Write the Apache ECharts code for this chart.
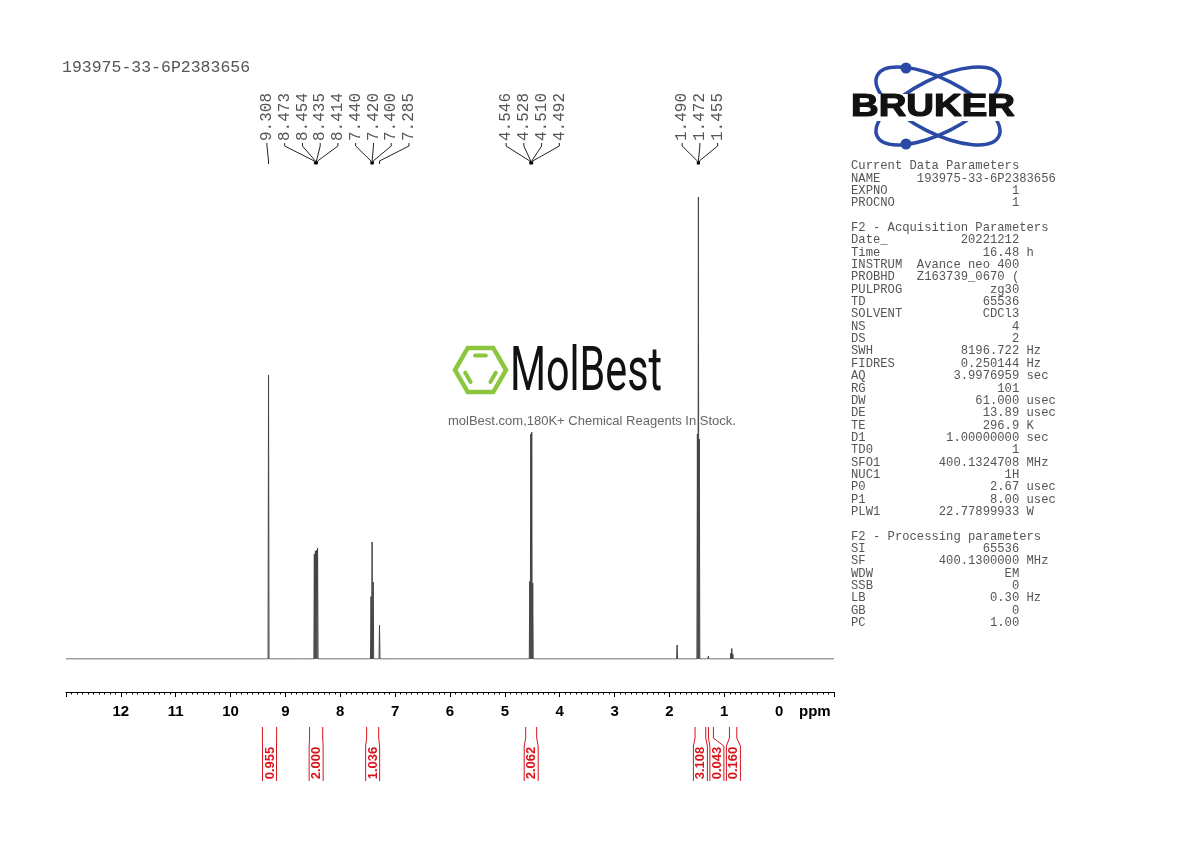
<!DOCTYPE html>
<html><head><meta charset="utf-8">
<script src="https://cdn.jsdelivr.net/npm/echarts@6/dist/echarts.min.js"></script>
<style>html,body{margin:0;padding:0;background:#fff}#c{width:1190px;height:842px}</style>
</head><body><div id="c"></div>
<script>
// ---------------- data ----------------
const sampleName = '193975-33-6P2383656';
const tickLabels = ['12','11','10','9','8','7','6','5','4','3','2','1','0'];
const axisUnit = 'ppm';

// peak positions (ppm) and heights (relative intensity)
const peakPpm    = [9.308, 9.04, 8.66, 8.473, 8.454, 8.435, 8.414, 8.20, 7.440, 7.420, 7.400, 7.285, 6.95,
                    4.546, 4.528, 4.510, 4.492, 1.86, 1.62, 1.490, 1.472, 1.455, 1.29, 1.25, 0.880, 0.863, 0.845];
const peakHeight = [56.8, 0.3, 0.3, 21.0, 21.6, 21.8, 22.2, 0.2, 12.5, 23.4, 15.4, 6.8, 0.3,
                    15.5, 45.0, 45.4, 15.2, 2.8, 0.4, 45.0, 92.4, 44.0, 0.6, 0.4, 1.2, 2.1, 1.0];

// labelled peaks
const labelPpm = [9.308, 8.473, 8.454, 8.435, 8.414, 7.440, 7.420, 7.400, 7.285,
                  4.546, 4.528, 4.510, 4.492, 1.490, 1.472, 1.455];

// integrals
const integralFrom  = [9.42, 8.56, 7.52, 4.62, 1.533, 1.289, 0.906];
const integralTo    = [9.16, 8.32, 7.30, 4.42, 1.338, 1.198, 0.772];
const integralValue = [0.955, 2.000, 1.036, 2.062, 3.108, 0.043, 0.160];

// parameter panel
const currentKeys   = ['NAME', 'EXPNO', 'PROCNO'];
const currentValues = ['193975-33-6P2383656', '1', '1'];
const acqKeys   = ['Date_','Time','INSTRUM','PROBHD','PULPROG','TD','SOLVENT','NS','DS','SWH','FIDRES','AQ','RG','DW','DE','TE','D1','TD0','SFO1','NUC1','P0','P1','PLW1'];
const acqValues = ['20221212','16.48','Avance neo 400','Z163739_0670 (','zg30','65536','CDCl3','4','2','8196.722','0.250144','3.9976959','101','61.000','13.89','296.9','1.00000000','1','400.1324708','1H','2.67','8.00','22.77899933'];
const acqUnits  = ['','h','','','','','','','','Hz','Hz','sec','','usec','usec','K','sec','','MHz','','usec','usec','W'];
const procKeys   = ['SI','SF','WDW','SSB','LB','GB','PC'];
const procValues = ['65536','400.1300000','EM','0','0.30','0','1.00'];
const procUnits  = ['','MHz','','','Hz','',''];

const watermarkTitle = 'MolBest';
const watermarkTagline = 'molBest.com,180K+ Chemical Reagents In Stock.';
const logoText = 'BRUKER';

// ---------------- chart ----------------
const chart = echarts.init(document.getElementById('c'), null, {renderer: 'canvas'});
const HW = 0.009;
const pts = [[13, 0], [-1, 0]];
peakPpm.forEach((p, i) => { pts.push([p + HW, 0], [p, peakHeight[i]], [p - HW, 0]); });
pts.sort((a, b) => b[0] - a[0]);

const MONO = '"Liberation Mono","DejaVu Sans Mono",monospace';
const SANS = '"Liberation Sans",Arial,sans-serif';
const TXT = '#555';

chart.setOption({
  animation: false,
  grid: {left: 66, right: 356, top: 159, bottom: 183},
  xAxis: {
    type: 'value', min: -1, max: 13, interval: 1, inverse: true, offset: 33,
    axisLine: {show: true, onZero: false, lineStyle: {color: '#000', width: 1}},
    axisTick: {show: true, inside: false, length: 5, lineStyle: {color: '#000'}},
    minorTick: {show: true, splitNumber: 10, length: 2.5, lineStyle: {color: '#000'}},
    splitLine: {show: false}, minorSplitLine: {show: false},
    axisLabel: {
      margin: 12, color: '#000', fontSize: 15, fontWeight: 'bold', fontFamily: SANS,
      formatter: v => tickLabels.includes(String(v)) ? String(v) : ''
    }
  },
  yAxis: {type: 'value', min: 0, max: 100, show: false},
  series: [{
    type: 'line', data: pts, showSymbol: false, symbol: 'none', silent: true, z: 5,
    lineStyle: {color: '#444', width: 1}
  }]
});

const px = v => chart.convertToPixel({xAxisIndex: 0}, v);
const G = [];

// header
G.push({type: 'text', x: 62, y: 68, style: {text: sampleName, font: '16.5px ' + MONO, fill: TXT, textAlign: 'left', textVerticalAlign: 'middle', verticalAlign: 'middle'}});
// ppm unit
G.push({type: 'text', x: 799, y: 712, style: {text: axisUnit, font: 'bold 15px ' + SANS, fill: '#000', textAlign: 'left', textVerticalAlign: 'middle', verticalAlign: 'middle'}});

// ---- peak labels: spread with fixed spacing ----
const SP = 17.75;
const lp = labelPpm.map(px);
let clusters = lp.map((x, i) => ({s: i, n: 1, c: x}));
let merged = true;
while (merged) {
  merged = false;
  for (let k = 0; k < clusters.length - 1; k++) {
    const a = clusters[k], b = clusters[k + 1];
    const aEnd = a.c + (a.n - 1) / 2 * SP, bStart = b.c - (b.n - 1) / 2 * SP;
    if (bStart - aEnd < SP) {
      let sum = 0; for (let j = a.s; j < a.s + a.n + b.n; j++) sum += lp[j];
      clusters.splice(k, 2, {s: a.s, n: a.n + b.n, c: sum / (a.n + b.n)});
      merged = true; break;
    }
  }
}
const lx = [];
clusters.forEach(cl => { for (let j = 0; j < cl.n; j++) lx[cl.s + j] = cl.c + (j - (cl.n - 1) / 2) * SP + 1.5; });
labelPpm.forEach((p, i) => {
  G.push({type: 'text', x: lx[i], y: 141, rotation: Math.PI / 2,
    style: {text: p.toFixed(3), font: '16px ' + MONO, fill: TXT, textAlign: 'left', textVerticalAlign: 'middle', verticalAlign: 'middle'}});
  G.push({type: 'polyline', shape: {points: [[lx[i], 143], [lx[i], 146], [lp[i], 161], [lp[i], 164]]},
    style: {stroke: '#222', lineWidth: 1, fill: null}});
});
// multiplet junction squares
let grp = [0];
for (let i = 1; i <= labelPpm.length; i++) {
  if (i < labelPpm.length && labelPpm[i - 1] - labelPpm[i] < 0.03) { grp.push(i); continue; }
  if (grp.length > 1) {
    const m = grp.reduce((s, j) => s + lp[j], 0) / grp.length;
    G.push({type: 'rect', shape: {x: m - 1.5, y: 161.5, width: 3, height: 3}, style: {fill: '#000'}});
  }
  grp = [i];
}

// ---- integrals ----
const RED = '#d8141b';
const ic = integralFrom.map((f, i) => (px(f) + px(integralTo[i])) / 2);
for (let i = 1; i < ic.length; i++) if (ic[i] - ic[i - 1] < 16.5) ic[i] = ic[i - 1] + 16.5;
integralValue.forEach((v, i) => {
  const x1 = px(integralFrom[i]), x2 = px(integralTo[i]), c = ic[i], hw = 7;
  G.push({type: 'polyline', shape: {points: [[x1, 727], [x1, 738], [c - hw, 746], [c - hw, 781]]}, style: {stroke: RED, lineWidth: 1, fill: null}});
  G.push({type: 'polyline', shape: {points: [[x2, 727], [x2, 738], [c + hw, 746], [c + hw, 781]]}, style: {stroke: RED, lineWidth: 1, fill: null}});
  G.push({type: 'text', x: c + 0.5, y: 763, rotation: Math.PI / 2,
    style: {text: v.toFixed(3), font: 'bold 13px ' + SANS, fill: RED, textAlign: 'center', textVerticalAlign: 'middle', verticalAlign: 'middle'}});
});

// ---- parameter panel ----
function row(k, v, u) {
  const gap = 23 - k.length - v.length;
  let s = gap < 1 ? k.padEnd(9) + v : k + ' '.repeat(gap) + v;
  if (u) s += ' ' + u;
  return s;
}
const rows = ['Current Data Parameters'];
currentKeys.forEach((k, i) => rows.push(row(k, currentValues[i], '')));
rows.push('', 'F2 - Acquisition Parameters');
acqKeys.forEach((k, i) => rows.push(row(k, acqValues[i], acqUnits[i])));
rows.push('', 'F2 - Processing parameters');
procKeys.forEach((k, i) => rows.push(row(k, procValues[i], procUnits[i])));
rows.forEach((r, i) => {
  if (!r) return;
  G.push({type: 'text', x: 851, y: 166 + i * 12.35, style: {text: r, font: '12.2px ' + MONO, fill: TXT, textAlign: 'left', textVerticalAlign: 'middle', verticalAlign: 'middle'}});
});

// ---- Bruker logo ----
const BLUE = '#2b4aa6';
const th = 26.7 * Math.PI / 180;
G.push({type: 'ellipse', x: 938, y: 106, rotation: -th, shape: {cx: 0, cy: 0, rx: 68, ry: 27}, style: {stroke: BLUE, lineWidth: 3.5, fill: null}});
G.push({type: 'ellipse', x: 938, y: 106, rotation: th, shape: {cx: 0, cy: 0, rx: 68, ry: 27}, style: {stroke: BLUE, lineWidth: 3.5, fill: null}});
G.push({type: 'circle', shape: {cx: 906, cy: 68, r: 5.5}, style: {fill: BLUE}});
G.push({type: 'circle', shape: {cx: 906, cy: 144, r: 5.5}, style: {fill: BLUE}});
G.push({type: 'rect', shape: {x: 846, y: 94, width: 174, height: 27}, style: {fill: '#fff'}});
(function () {
  const ctx = document.createElement('canvas').getContext('2d');
  const f = 'bold 32px ' + SANS;
  ctx.font = f;
  const w = ctx.measureText(logoText).width;
  G.push({type: 'text', x: 851, y: 107.5, scaleX: 164 / w, style: {text: logoText, font: f, fill: '#111', stroke: '#111', lineWidth: 1.2, textAlign: 'left', textVerticalAlign: 'middle', verticalAlign: 'middle'}});
  // MolBest watermark
  const f2 = '62px Roboto, ' + SANS;
  ctx.font = f2;
  const w2 = ctx.measureText(watermarkTitle).width;
  G.push({type: 'text', x: 510, y: 374, scaleX: 152 / w2, z: 0, style: {text: watermarkTitle, font: f2, fill: '#111', textAlign: 'left', textVerticalAlign: 'middle', verticalAlign: 'middle'}});
})();
// hexagon
const hc = [480.5, 370], R = 25.5;
const V = [0, 1, 2, 3, 4, 5].map(k => [hc[0] + R * Math.cos(k * Math.PI / 3), hc[1] + R * Math.sin(k * Math.PI / 3)]);
const GREEN = '#8cc63e';
G.push({type: 'polygon', shape: {points: V}, style: {stroke: GREEN, lineWidth: 4.5, fill: null}});
[[4, 5], [2, 3], [0, 1]].forEach(([a, b]) => {
  const A = [hc[0] + (V[a][0] - hc[0]) * 0.66, hc[1] + (V[a][1] - hc[1]) * 0.66];
  const B = [hc[0] + (V[b][0] - hc[0]) * 0.66, hc[1] + (V[b][1] - hc[1]) * 0.66];
  G.push({type: 'line', shape: {x1: A[0] + (B[0] - A[0]) * 0.18, y1: A[1] + (B[1] - A[1]) * 0.18, x2: A[0] + (B[0] - A[0]) * 0.82, y2: A[1] + (B[1] - A[1]) * 0.82},
    style: {stroke: GREEN, lineWidth: 4, lineCap: 'round'}});
});
G.push({type: 'text', x: 448, y: 421, z: 0, style: {text: watermarkTagline, font: '13px ' + SANS, fill: '#666', textAlign: 'left', textVerticalAlign: 'middle', verticalAlign: 'middle'}});

chart.setOption({graphic: {elements: G}});
</script></body></html>
